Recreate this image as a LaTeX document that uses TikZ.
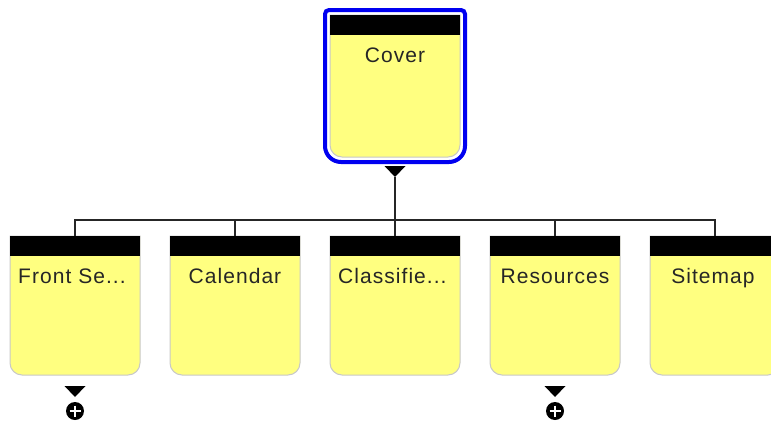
\documentclass[tikz,border=0pt]{standalone}
\usepackage{fontspec}
\setmainfont[LetterSpace=5]{Liberation Sans}
\definecolor{cardyellow}{RGB}{255,255,128}
\definecolor{cardedge}{RGB}{200,200,200}
\definecolor{selblue}{RGB}{0,0,240}
\tikzset{
  card/.style={minimum width=130pt, inner sep=0pt, outer sep=0pt},
  cardbody/.style={fill=cardyellow, draw=cardedge, line width=1pt},
  headbar/.style={fill=black},
  cardtext/.style={anchor=base, inner sep=0pt, text=black!85, font=\fontsize{21}{24}\selectfont},
  link/.style={draw=black!85, line width=1.3pt},
  expander/.style={fill=black},
}
% card outline: square top, rounded bottom corners, black title bar
\newcommand{\drawcard}[1]{%
  \path[cardbody] (#1.north west) -- (#1.north east)
    [rounded corners=12pt] -- (#1.south east) -- (#1.south west)
    [sharp corners] -- cycle;
  \fill[headbar] (#1.north west) rectangle ([yshift=-20pt]#1.north east);
}
% collapse triangle with a plus disc below it
\newcommand{\drawexpander}[1]{%
  \fill[expander] ([shift={(-10.5pt,-11pt)}]#1.south) -- ([shift={(10.5pt,-11pt)}]#1.south)
    -- ([yshift=-22pt]#1.south) -- cycle;
  \fill[expander] ([yshift=-36pt]#1.south) circle (9pt);
  \draw[white, line width=2.8pt] ([shift={(-5.5pt,-36pt)}]#1.south) -- ([shift={(5.5pt,-36pt)}]#1.south);
  \draw[white, line width=2.8pt] ([shift={(0pt,-30.5pt)}]#1.south) -- ([shift={(0pt,-41.5pt)}]#1.south);
}
\begin{document}
\begin{tikzpicture}[x=1pt, y=-1pt]
  \useasboundingbox (0,0) rectangle (771,431);
  \fill[white] (0,0) rectangle (771,431);
  \begin{scope}
  \clip (0,0) rectangle (771,431);

  % root page
  \node[card, minimum height=142pt] (cover) at (395,86) {};
  \draw[selblue, line width=4pt, rounded corners=4pt]
    ([shift={(-5pt,5pt)}]cover.north west) -- ([shift={(5pt,5pt)}]cover.north east)
    {[rounded corners=16pt] -- ([shift={(5pt,-5pt)}]cover.south east)
    -- ([shift={(-5pt,-5pt)}]cover.south west)} -- cycle;
  \drawcard{cover}
  \node[cardtext] (covertext) at (395,62) {Cover};

  % child pages
  \foreach \n/\x in {front/75, cal/235, cls/395, res/555, site/715}{
    \node[card, minimum height=139pt] (\n) at (\x,305.5) {};
    \drawcard{\n}
  }
  \node[cardtext, anchor=base west] (fronttext) at (18,283) {Front Se...};
  \node[cardtext] (caltext) at (235,283) {Calendar};
  \node[cardtext, anchor=base west] (clstext) at (338,283) {Classifie...};
  \node[cardtext] (restext) at (555,283) {Resources};
  \node[cardtext] (sitetext) at (713,283) {Sitemap};

  % expand triangle under the root and tree connectors
  \fill[expander] ([shift={(-10.5pt,-9pt)}]cover.south) -- ([shift={(10.5pt,-9pt)}]cover.south)
    -- ([yshift=-20pt]cover.south) coordinate (covertip) -- cycle;
  \coordinate (bus) at (395,220);
  \draw[link] (covertip) -- (bus);
  \foreach \n in {front, cal, cls, res, site}{
    \draw[link] (bus) -| (\n.north);
  }

  % collapsed branches
  \drawexpander{front}
  \drawexpander{res}
  \end{scope}
\end{tikzpicture}
\end{document}
